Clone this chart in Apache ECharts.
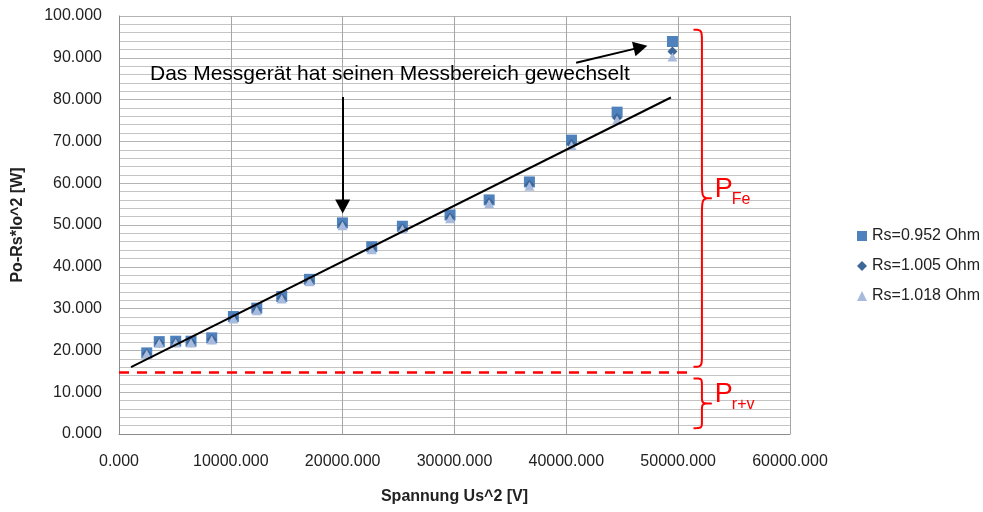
<!DOCTYPE html>
<html>
<head>
<meta charset="utf-8">
<script src="https://cdn.jsdelivr.net/npm/echarts@6/dist/echarts.min.js"></script>
<style>
html,body{margin:0;padding:0;background:#fff;}
#chart{width:983px;height:512px;}
</style>
</head>
<body>
<div id="chart"></div>
<script>
// ---- data ----
const xValues = [2480, 3600, 5070, 6440, 8290, 10230, 12320, 14550, 17030, 19980, 22600, 25340, 29600, 33100, 36700, 40460, 44540, 49490];
const rs0952 = [19.4, 22.1, 22.2, 22.2, 23.0, 28.1, 30.1, 32.9, 37.0, 50.5, 44.8, 49.7, 52.4, 56.0, 60.3, 70.3, 77.0, 93.9];
const rs1005 = [19.2, 21.8, 21.9, 21.9, 22.6, 27.7, 29.7, 32.5, 36.6, 50.0, 44.3, 49.2, 51.8, 55.4, 59.6, 69.4, 75.6, 91.5];
const rs1018 = [19.1, 21.7, 21.8, 21.8, 22.5, 27.5, 29.5, 32.3, 36.4, 49.8, 44.1, 49.0, 51.5, 55.1, 59.3, 69.0, 75.1, 90.2];
const seriesNames = ['Rs=0.952 Ohm', 'Rs=1.005 Ohm', 'Rs=1.018 Ohm'];
const trendX = [1073, 49350];
const trendY = [16.0, 80.5];
const lossLevel = 14.7;           // P r+v level (red dashed line)
const lossLineX = [0, 50900];
const xTicks = [0, 60000, 10000]; // min, max, interval
const yTicks = [0, 100, 10];
const xTitle = 'Spannung Us^2 [V]';
const yTitle = 'Po-Rs*Io^2 [W]';
// annotations in data coordinates
const noteText = 'Das Messgerät hat seinen Messbereich gewechselt';
const notePos = [2773, 86.1];
const arrow1 = [[20000, 80.6], [20000, 54.4]];
const arrow2 = [[40877, 88.8], [46637, 92.5]];
const braceFe = {x0: 51370, xt: 53010, top: 96.7, mid: 56.4, bot: 16.1, label: 'P', sub: 'Fe'};
const braceRV = {x0: 51370, xt: 53010, top: 13.3, mid: 7.3, bot: 1.4, label: 'P', sub: 'r+v'};

const chart = echarts.init(document.getElementById('chart'), null, {renderer: 'canvas'});
const pts = (ys) => xValues.map((x, i) => [x, ys[i]]);
const FONT = 'Liberation Sans, Arial, sans-serif';

const option = {
  animation: false,
  backgroundColor: '#ffffff',
  grid: {left: 119, right: 193, top: 16, bottom: 78, containLabel: false},
  legend: {
    orient: 'vertical', left: 852, top: 223,
    itemWidth: 10, itemHeight: 10, itemGap: 14,
    data: [
      {name: seriesNames[0], icon: 'rect'},
      {name: seriesNames[1], icon: 'diamond'},
      {name: seriesNames[2], icon: 'triangle'}
    ],
    textStyle: {fontFamily: FONT, fontSize: 16, color: '#222'}
  },
  xAxis: {
    type: 'value', min: xTicks[0], max: xTicks[1], interval: xTicks[2],
    name: xTitle, nameLocation: 'middle', nameGap: 55,
    nameTextStyle: {fontFamily: FONT, fontSize: 16, fontWeight: 'bold', color: '#222'},
    axisLine: {show: true, lineStyle: {color: '#8c8c8c', width: 1}},
    axisTick: {show: false},
    axisLabel: {margin: 20, fontFamily: FONT, fontSize: 16, color: '#222', formatter: v => v.toFixed(3)},
    splitLine: {show: true, lineStyle: {color: '#a6a6a6', width: 1}}
  },
  yAxis: {
    type: 'value', min: yTicks[0], max: yTicks[1], interval: yTicks[2],
    name: yTitle, nameLocation: 'middle', nameGap: 93, nameRotate: 90,
    nameTextStyle: {fontFamily: FONT, fontSize: 16, fontWeight: 'bold', color: '#222'},
    axisLine: {show: true, lineStyle: {color: '#8c8c8c', width: 1}},
    axisTick: {show: false},
    axisLabel: {margin: 17, fontFamily: FONT, fontSize: 16, color: '#222', formatter: v => v.toFixed(3)},
    splitLine: {show: true, lineStyle: {color: '#b3b3b3', width: 1}},
    minorTick: {show: false, splitNumber: 5},
    minorSplitLine: {show: true, lineStyle: {color: '#c4c4c4', width: 1}}
  },
  series: [
    {name: seriesNames[0], type: 'scatter', symbol: 'rect', symbolSize: 11, z: 3,
     itemStyle: {color: '#4f81bd', opacity: 1}, data: pts(rs0952)},
    {name: seriesNames[1], type: 'scatter', symbol: 'diamond', symbolSize: 10, z: 4,
     itemStyle: {color: '#3d6699', opacity: 1}, data: pts(rs1005)},
    {name: seriesNames[2], type: 'scatter', symbol: 'triangle', symbolSize: [10, 9], z: 5,
     itemStyle: {color: '#a8bbdc', opacity: 1}, data: pts(rs1018)},
    {name: 'loss', type: 'line', z: 6, symbol: 'none', silent: true,
     lineStyle: {color: '#ff0000', width: 2.5, type: [10, 8]},
     data: lossLineX.map(x => [x, lossLevel])},
    {name: 'trend', type: 'line', z: 7, symbol: 'none', silent: true,
     lineStyle: {color: '#000000', width: 2},
     data: trendX.map((x, i) => [x, trendY[i]]),
     markLine: {
       silent: true, animation: false,
       symbol: ['none', 'triangle'], symbolSize: [15, 14],
       label: {show: false},
       lineStyle: {color: '#000', width: 2, type: 'solid'},
       emphasis: {disabled: true},
       data: [
         [{coord: arrow1[0]}, {coord: arrow1[1]}],
         [{coord: arrow2[0]}, {coord: arrow2[1]}]
       ]
     }}
  ]
};
chart.setOption(option);

function px(p) { return chart.convertToPixel({gridIndex: 0}, p); }
// sample a cubic bezier into points
function cubic(p0, p1, p2, p3, n, out) {
  for (let i = 1; i <= n; i++) {
    const t = i / n, u = 1 - t;
    out.push([
      u*u*u*p0[0] + 3*u*u*t*p1[0] + 3*u*t*t*p2[0] + t*t*t*p3[0],
      u*u*u*p0[1] + 3*u*u*t*p1[1] + 3*u*t*t*p2[1] + t*t*t*p3[1]
    ]);
  }
}
function bracePoints(b, rEnd, rMid) {
  const a = px([b.x0, b.top]), t = px([b.xt, b.mid]), c = px([b.x0, b.bot]);
  const x0 = a[0], xt = t[0], xm = x0 + (xt - x0) * 0.46;
  const yT = a[1], yM = t[1], yB = c[1];
  const out = [[x0, yT]];
  cubic([x0, yT], [xm, yT], [xm, yT], [xm, yT + rEnd], 12, out);
  out.push([xm, yM - rMid]);
  cubic([xm, yM - rMid], [xm, yM], [xm, yM], [xt, yM], 12, out);
  cubic([xt, yM], [xm, yM], [xm, yM], [xm, yM + rMid], 12, out);
  out.push([xm, yB - rEnd]);
  cubic([xm, yB - rEnd], [xm, yB], [xm, yB], [x0, yB], 12, out);
  return out;
}
function braceLabel(b, dy) {
  const t = px([b.xt, b.mid]);
  return [
    {type: 'text', z: 100, x: t[0] + 3, y: t[1] + dy,
     style: {text: b.label, font: '27px ' + FONT, fill: '#ff0000', textAlign: 'left', textVerticalAlign: 'bottom'}},
    {type: 'text', z: 100, x: t[0] + 20, y: t[1] + dy + 4,
     style: {text: b.sub, font: '16px ' + FONT, fill: '#ff0000', textAlign: 'left', textVerticalAlign: 'bottom'}}
  ];
}
const np = px(notePos);
chart.setOption({
  graphic: [
    {type: 'text', z: 100, x: np[0], y: np[1],
     style: {text: noteText, font: '21px ' + FONT, fill: '#000', textAlign: 'left', textVerticalAlign: 'middle'}},
    {type: 'polyline', z: 100, shape: {points: bracePoints(braceFe, 14, 20)},
     style: {stroke: '#ff0000', fill: null, lineWidth: 2}},
    {type: 'polyline', z: 100, shape: {points: bracePoints(braceRV, 8, 8)},
     style: {stroke: '#ff0000', fill: null, lineWidth: 2}},
    ...braceLabel(braceFe, 5),
    ...braceLabel(braceRV, 5)
  ]
});
</script>
</body>
</html>
